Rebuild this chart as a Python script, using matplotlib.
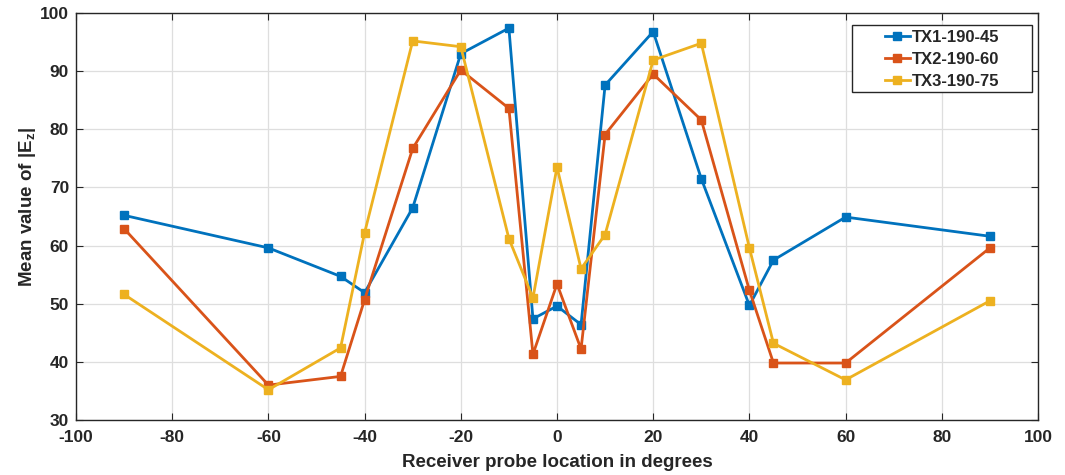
import matplotlib
matplotlib.use("Agg")
import matplotlib.pyplot as plt
from matplotlib.patches import Rectangle

plt.rcParams['font.family'] = ['Liberation Sans', 'DejaVu Sans']
plt.rcParams['font.weight'] = 'bold'
plt.rcParams['axes.unicode_minus'] = False
plt.rcParams['text.color'] = '#262626'
plt.rcParams['xtick.color'] = '#262626'
plt.rcParams['ytick.color'] = '#262626'
plt.rcParams['axes.labelcolor'] = '#262626'
plt.rcParams['mathtext.fontset'] = 'custom'
plt.rcParams['mathtext.bf'] = 'Liberation Sans:bold'
plt.rcParams['mathtext.rm'] = 'Liberation Sans:bold'

# receiver probe angles (deg)
angles = [-90, -60, -45, -40, -30, -20, -10, -5, 0, 5, 10, 20, 30, 40, 45, 60, 90]
tx1 = [65.2, 59.6, 54.7, 51.9, 66.5, 93.0, 97.4, 47.4, 49.6, 46.4, 87.6, 96.8, 71.5, 49.7, 57.5, 64.9, 61.6]
tx2 = [62.9, 36.0, 37.5, 50.7, 76.7, 90.2, 83.6, 41.3, 53.4, 42.2, 79.1, 89.5, 81.6, 52.3, 39.8, 39.8, 59.6]
tx3 = [51.6, 35.2, 42.4, 62.2, 95.2, 94.2, 61.2, 51.0, 73.5, 56.0, 61.9, 91.9, 94.8, 59.6, 43.2, 36.9, 50.5]
names = ['TX1-190-45', 'TX2-190-60', 'TX3-190-75']
colors = ['#0072BD', '#D95319', '#EDB120']

W, H = 1065, 475
fig = plt.figure(figsize=(W / 100, H / 100), dpi=100)
ax = fig.add_axes([76 / W, 1 - 420 / H, (1038 - 76) / W, (420 - 13) / H])

for ys, nm, c in zip([tx1, tx2, tx3], names, colors):
    ax.plot(angles, ys, '-s', color=c, lw=2, ms=5.5, label=nm)

ax.set_xlim(-100, 100)
ax.set_ylim(30, 100)
ax.set_xticks(range(-100, 101, 20))
ax.set_yticks(range(30, 101, 10))
ax.grid(True, color='#dedede', lw=0.9)
ax.set_axisbelow(True)
ax.tick_params(direction='in', top=True, right=True, labelsize=12.5, length=5, width=0.8)
ax.tick_params(axis='x', pad=7)
ax.tick_params(axis='y', pad=5)
for s in ax.spines.values():
    s.set_color('#262626')
    s.set_linewidth(1.0)

ax.set_xlabel('Receiver probe location in degrees', fontsize=13.5, fontweight='bold', labelpad=7)
ax.set_ylabel(r'Mean value of |E$_\mathbf{z}$|', fontsize=13.5, fontweight='bold')
ax.yaxis.set_label_coords(-0.039, 0.523)

# MATLAB-like legend box, wider than its contents
leg = fig.legend(*ax.get_legend_handles_labels(), loc='center',
                 bbox_to_anchor=(942 / W, 1 - 59.5 / H), fontsize=12, frameon=False,
                 handlelength=1.5, handletextpad=0.15, borderpad=0.0, labelspacing=0.42)
fig.patches.append(Rectangle((852 / W, 1 - 92 / H), 180 / W, 67 / H, transform=fig.transFigure,
                             facecolor='white', edgecolor='#262626', lw=1.0, zorder=4))
leg.set_zorder(5)

fig.savefig('out.png', dpi=100)
